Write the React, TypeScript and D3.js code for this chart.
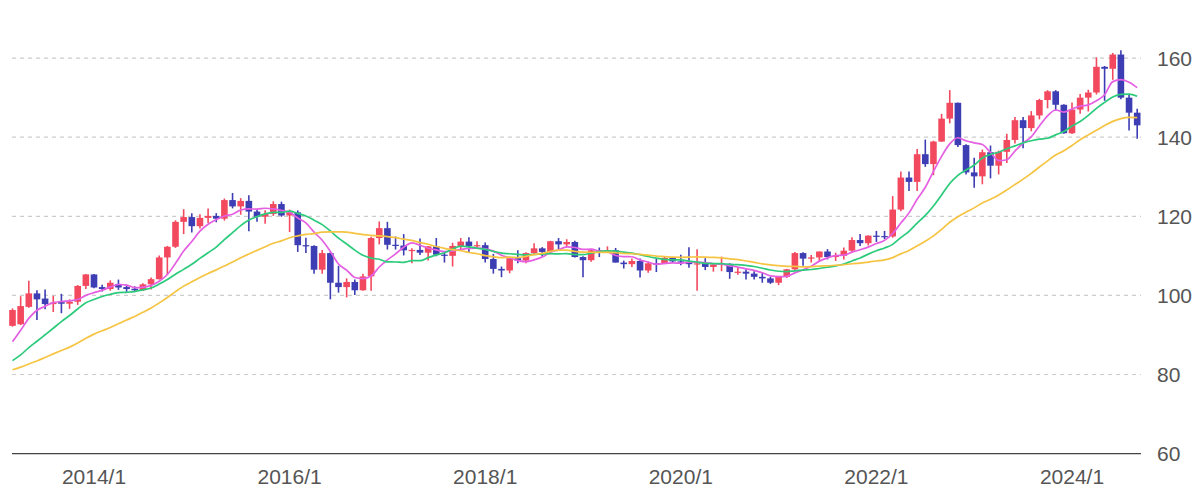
import React from "react";
import * as d3 from "d3";

// Monthly candles, 2013/3 .. 2024/9
const startMonth = new Date(2013, 2, 1);
const endMonthExclusive = new Date(2024, 9, 1);

const opens = [
  // 2013 (Mar-Dec)
  92.3, 92.7, 97.1, 100.5, 99.2, 97.8, 98.3, 97.9, 98.4, 102.4,
  // 2014
  105.3, 102.1, 101.6, 102.9, 102.1, 101.7, 101.3, 102.8, 104.1, 109.6, 112.3, 118.6,
  // 2015
  119.8, 117.5, 119.6, 120.1, 119.4, 124.1, 122.5, 123.9, 121.2, 119.9, 120.6, 123.1,
  // 2016
  120.2, 121.0, 112.7, 112.5, 106.5, 110.7, 103.2, 102.1, 103.4, 101.3, 104.8, 114.5,
  // 2017
  117.0, 112.8, 112.6, 111.4, 111.5, 110.8, 112.4, 110.3, 110.0, 112.5, 113.6, 112.5,
  // 2018
  112.7, 109.2, 106.7, 106.3, 109.4, 108.8, 110.7, 111.9, 111.0, 113.7, 112.9, 113.5,
  // 2019
  109.7, 108.9, 111.4, 110.9, 111.4, 108.3, 107.9, 108.7, 106.3, 108.1, 108.0, 109.5,
  // 2020
  108.6, 108.4, 107.9, 108.1, 107.2, 107.8, 108.0, 105.9, 106.0, 105.5, 104.7, 104.3,
  // 2021
  103.2, 104.7, 106.6, 110.7, 109.3, 109.6, 111.1, 109.7, 110.0, 111.3, 114.0, 113.2,
  // 2022
  115.1, 115.0, 114.9, 121.7, 129.8, 128.7, 135.7, 133.2, 138.9, 144.7, 148.7, 138.0,
  // 2023
  131.1, 130.1, 136.2, 132.8, 136.3, 139.3, 144.3, 142.3, 145.5, 149.4, 151.6, 148.2,
  // 2024 (Jan-Sep)
  141.0, 147.0, 150.0, 151.3, 157.8, 157.3, 160.9, 150.0, 146.2,
];

const highs = [
  96.7, 99.8, 103.7, 101.3, 101.5, 99.9, 100.4, 99.0, 102.6, 105.4,
  105.4, 102.7, 103.8, 104.0, 102.7, 102.3, 103.1, 104.5, 110.1, 112.5, 119.0, 121.8,
  120.8, 120.5, 122.0, 120.8, 124.5, 125.9, 124.6, 125.3, 121.8, 121.5, 123.8, 123.7,
  121.7, 121.5, 114.6, 112.7, 111.5, 110.9, 107.5, 104.3, 104.0, 105.5, 114.8, 118.7,
  118.6, 114.9, 115.5, 111.9, 114.4, 112.5, 114.5, 111.0, 113.3, 114.5, 114.7, 113.7,
  113.4, 110.5, 107.3, 109.8, 111.4, 110.9, 113.2, 112.2, 113.8, 114.5, 114.2, 113.8,
  109.9, 111.5, 112.1, 112.4, 112.0, 108.8, 109.3, 109.3, 108.5, 109.3, 109.7, 109.7,
  110.3, 112.2, 111.7, 109.4, 108.1, 109.8, 108.1, 107.1, 106.6, 106.1, 105.7, 104.7,
  104.9, 106.7, 111.0, 110.9, 110.2, 111.1, 111.7, 110.8, 112.1, 114.7, 115.5, 115.2,
  116.3, 116.3, 125.1, 131.3, 131.3, 137.0, 139.4, 139.1, 145.9, 151.9, 148.8, 138.2,
  134.8, 136.9, 137.9, 136.6, 140.9, 145.1, 145.1, 146.6, 149.7, 151.9, 151.9, 148.3,
  148.8, 150.9, 152.0, 160.2, 158.0, 161.3, 162.0, 150.9, 147.2,
];

const lows = [
  92.1, 92.5, 96.9, 93.8, 96.5, 95.8, 95.5, 96.6, 97.6, 101.6,
  101.8, 101.0, 101.2, 101.4, 100.9, 101.1, 101.1, 101.5, 104.0, 105.2, 112.0, 115.5,
  115.9, 116.9, 118.3, 118.5, 118.9, 122.0, 120.4, 116.2, 118.6, 118.1, 120.1, 119.9,
  116.0, 111.0, 110.7, 105.5, 105.5, 99.0, 100.7, 99.5, 100.1, 101.2, 101.2, 112.9,
  111.6, 111.6, 110.1, 108.1, 110.2, 108.8, 109.9, 108.3, 107.3, 111.7, 110.8, 111.9,
  108.3, 105.5, 104.6, 105.6, 108.1, 108.1, 110.3, 109.8, 110.4, 111.4, 112.3, 109.6,
  104.6, 108.5, 109.7, 110.8, 108.3, 106.8, 107.2, 104.5, 105.7, 105.9, 107.9, 108.4,
  107.6, 107.0, 101.2, 106.4, 106.0, 106.1, 104.2, 105.2, 104.0, 104.0, 103.2, 102.9,
  102.6, 104.4, 106.4, 107.5, 108.3, 108.6, 109.1, 108.7, 109.1, 110.8, 112.5, 112.6,
  113.5, 114.2, 114.6, 121.3, 126.4, 126.4, 132.5, 130.4, 138.8, 143.5, 137.5, 130.6,
  127.2, 128.1, 129.6, 130.6, 133.5, 138.4, 137.2, 141.5, 144.5, 147.3, 146.7, 140.9,
  140.8, 145.9, 146.5, 150.8, 149.2, 154.5, 149.6, 141.7, 139.6,
];

const closes = [
  96.3, 97.3, 100.5, 99.0, 97.8, 98.2, 97.9, 98.4, 102.4, 105.3,
  102.0, 101.6, 103.2, 102.0, 101.6, 101.3, 102.8, 104.1, 109.6, 112.3, 118.6, 119.8,
  117.5, 119.6, 120.1, 119.4, 124.1, 122.5, 123.9, 121.2, 119.9, 120.6, 123.1, 120.2,
  121.0, 112.7, 112.5, 106.5, 110.7, 103.2, 102.1, 103.4, 101.3, 104.8, 114.5, 117.0,
  112.8, 112.6, 111.4, 111.5, 110.8, 112.4, 110.3, 110.0, 112.5, 113.6, 112.5, 112.7,
  109.2, 106.7, 106.3, 109.4, 108.8, 110.7, 111.9, 111.0, 113.7, 112.9, 113.5, 109.7,
  108.9, 111.4, 110.9, 111.4, 108.3, 107.9, 108.7, 106.3, 108.1, 108.0, 109.5, 108.6,
  108.4, 107.9, 108.1, 107.2, 107.8, 108.0, 105.9, 106.0, 105.5, 104.7, 104.3, 103.2,
  104.7, 106.6, 110.7, 109.3, 109.6, 111.1, 109.7, 110.0, 111.3, 114.0, 113.2, 115.1,
  115.0, 114.9, 121.7, 129.8, 128.7, 135.7, 133.2, 138.9, 144.7, 148.7, 138.0, 131.1,
  130.1, 136.2, 132.8, 136.3, 139.3, 144.3, 142.3, 145.5, 149.4, 151.6, 148.2, 141.0,
  147.0, 150.0, 151.3, 157.8, 157.3, 160.9, 150.0, 146.2, 143.0,
];

// closes of the 23 months before the first candle (2011/4 .. 2013/2), needed by the averages
const priorCloses = [
  81.2, 81.5, 80.5, 76.7, 76.6, 77.0, 78.2, 77.6, 76.9,
  76.3, 81.2, 82.9, 80.0, 78.3, 79.8, 78.1, 78.4, 77.9, 79.8, 82.5, 86.7,
  91.7, 92.6,
];

const maWindows = [6, 12, 24];
const maColors = ["#e45fe2", "#2ccb7c", "#f6c443"];

const yTicks = [60, 80, 100, 120, 140, 160];
const xTickLabels = ["2014/1", "2016/1", "2018/1", "2020/1", "2022/1", "2024/1"];

const W = 1200;
const H = 494;
const UP = "#f2495f";
const DOWN = "#3d3db4";

export default function App() {
  const months = d3.timeMonth.range(startMonth, endMonthExclusive);
  const keyOf = (d: Date) => `${d.getFullYear()}/${d.getMonth() + 1}`;
  const keys = months.map(keyOf);

  const x = d3.scalePoint<string>().domain(keys).range([12.5, 1137.2]);
  const y = d3.scaleLinear().domain([60, 160]).range([453.6, 58.1]);

  const plotLeft = 12;
  const plotRight = 1141;

  const all = [...priorCloses, ...closes];
  const mas = maWindows.map((w) =>
    closes.map((_, i) => {
      const end = priorCloses.length + i + 1;
      return d3.mean(all.slice(end - w, end)) as number;
    })
  );

  const line = d3
    .line<number>()
    .x((_, i) => x(keys[i]) as number)
    .y((v) => y(v))
    .curve(d3.curveMonotoneX);

  const bodyW = 6.6;

  return (
    <svg
      width={W}
      height={H}
      style={{ position: "absolute", left: 0, top: 0, background: "#fff" }}
      fontFamily="'Liberation Sans', Arial, sans-serif"
    >
      {yTicks
        .filter((t) => t !== 60)
        .map((t) => (
          <line
            key={"g" + t}
            x1={plotLeft}
            x2={plotRight}
            y1={y(t)}
            y2={y(t)}
            stroke="#cccccc"
            strokeWidth={1.2}
            strokeDasharray="4,4"
          />
        ))}
      <line x1={plotLeft} x2={plotRight} y1={y(60)} y2={y(60)} stroke="#444" strokeWidth={1.4} />
      {yTicks.map((t) => (
        <text key={"yt" + t} x={1157} y={y(t)} dy="0.36em" fontSize={21} fill="#555">
          {t}
        </text>
      ))}
      {xTickLabels.map((lbl) => (
        <text key={lbl} x={x(lbl) as number} y={484} textAnchor="middle" fontSize={21} fill="#555">
          {lbl}
        </text>
      ))}
      <g>
        {keys.map((k, i) => {
          const o = opens[i];
          const c = closes[i];
          const col = c >= o ? UP : DOWN;
          const cx = x(k) as number;
          const top = y(Math.max(o, c));
          const bot = y(Math.min(o, c));
          return (
            <g key={k}>
              <line x1={cx} x2={cx} y1={y(highs[i])} y2={y(lows[i])} stroke={col} strokeWidth={1.6} />
              <rect x={cx - bodyW / 2} y={top} width={bodyW} height={Math.max(bot - top, 1.2)} fill={col} />
            </g>
          );
        })}
      </g>
      {mas.map((m, j) => (
        <path key={"ma" + j} d={line(m) || ""} fill="none" stroke={maColors[j]} strokeWidth={1.7} />
      ))}
    </svg>
  );
}
